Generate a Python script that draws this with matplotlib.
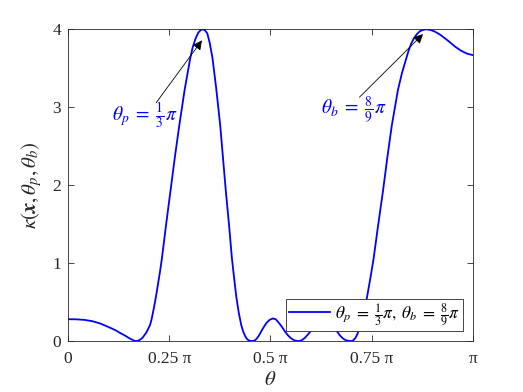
import numpy as np
import matplotlib
matplotlib.use("Agg")
import matplotlib.pyplot as plt

plt.rcParams['mathtext.fontset'] = 'stix'
plt.rcParams['font.family'] = ['Liberation Serif', 'DejaVu Serif']

# theta / pi and kappa values
theta_over_pi = [0.000, 0.020, 0.040, 0.060, 0.080, 0.100, 0.117, 0.130, 0.141, 0.150,
                 0.156, 0.162, 0.168, 0.172, 0.176, 0.180, 0.185, 0.189, 0.194, 0.198,
                 0.203, 0.207, 0.212, 0.217, 0.222, 0.227, 0.232, 0.242,
                 0.253, 0.264, 0.275, 0.288, 0.302, 0.308, 0.315, 0.322, 0.328, 0.333,
                 0.338, 0.344, 0.350,
                 0.357, 0.366, 0.376, 0.383, 0.390, 0.398, 0.405, 0.411, 0.416, 0.422,
                 0.428, 0.433, 0.438, 0.443, 0.447, 0.452, 0.457, 0.462, 0.466, 0.471,
                 0.476, 0.483, 0.490, 0.498, 0.506, 0.513, 0.520, 0.528, 0.535, 0.543,
                 0.550, 0.556, 0.562, 0.567, 0.571, 0.578, 0.585, 0.592, 0.600, 0.610,
                 0.620, 0.628, 0.635, 0.643, 0.650, 0.658, 0.665, 0.672, 0.680, 0.686,
                 0.692, 0.696, 0.700, 0.705, 0.710, 0.716, 0.723, 0.729, 0.735, 0.740,
                 0.745, 0.750, 0.755, 0.766, 0.778, 0.789, 0.800, 0.815, 0.825,
                 0.833, 0.841, 0.848, 0.855, 0.862, 0.869, 0.876, 0.883, 0.890, 0.897,
                 0.905, 0.912, 0.920, 0.930, 0.940, 0.956, 0.970, 0.985, 1.000]
kappa = [0.280, 0.279, 0.272, 0.255, 0.225, 0.180, 0.140, 0.100, 0.070, 0.040,
         0.024, 0.008, 0.000, 0.003, 0.011, 0.024, 0.048, 0.076, 0.113, 0.155,
         0.210, 0.290, 0.420, 0.560, 0.720, 0.880, 1.060, 1.480,
         1.920, 2.360, 2.770, 3.220, 3.630, 3.770, 3.880, 3.960, 3.992, 4.000,
         3.990, 3.950, 3.830,
         3.630, 3.250, 2.770, 2.350, 1.920, 1.480, 1.060, 0.780, 0.560, 0.360,
         0.205, 0.120, 0.060, 0.022, 0.007, 0.001, 0.000, 0.010, 0.030, 0.065,
         0.110, 0.175, 0.230, 0.272, 0.290, 0.280, 0.240, 0.185, 0.130, 0.075,
         0.040, 0.018, 0.005, 0.001, 0.000, 0.012, 0.040, 0.080, 0.130, 0.195,
         0.240, 0.265, 0.270, 0.260, 0.230, 0.180, 0.120, 0.070, 0.030, 0.012,
         0.004, 0.001, 0.000, 0.010, 0.040, 0.100, 0.220, 0.330, 0.460, 0.600,
         0.750, 0.900, 1.060, 1.480, 1.920, 2.360, 2.770, 3.220, 3.440,
         3.580, 3.720, 3.820, 3.890, 3.940, 3.975, 3.992, 4.000, 3.998, 3.990,
         3.975, 3.955, 3.930, 3.890, 3.850, 3.780, 3.730, 3.690, 3.670]

xtick_vals = [0, 0.25, 0.5, 0.75, 1.0]
xtick_labels = ['0', '0.25 π', '0.5 π', '0.75 π', 'π']
ytick_vals = [0, 1, 2, 3, 4]

theta = np.array(theta_over_pi) * np.pi

fig = plt.figure(figsize=(5.23, 3.92), dpi=100)
ax = fig.add_axes([0.130, 0.130, 0.774, 0.795])

ax.plot(theta, kappa, color=(0, 0, 1), lw=1.3,
        label=r'$\theta_p\;=\;\frac{1}{3}\pi,\;\theta_b\;=\;\frac{8}{9}\pi$')

ax.set_xlim(0, np.pi)
ax.set_ylim(0, 4)
ax.set_xticks(np.array(xtick_vals) * np.pi)
ax.set_xticklabels(xtick_labels)
ax.set_yticks(ytick_vals)

axc = (0.15, 0.15, 0.15)
for s in ax.spines.values():
    s.set_color(axc)
    s.set_linewidth(0.6)
ax.tick_params(direction='in', length=4, width=0.6, color=axc, labelcolor=axc,
               labelsize=12.5, top=True, right=True)
ax.tick_params(axis='x', pad=7)
ax.tick_params(axis='y', pad=5)

ax.set_xlabel(r'$\theta$', fontsize=15, color=axc, labelpad=3)
ax.set_ylabel(r'$\kappa(\mathbfit{x},\theta_p,\theta_b)$', fontsize=15, color=axc, labelpad=6)

# annotations
ax.annotate('', xy=(0.331 * np.pi, 3.86), xytext=(0.218 * np.pi, 3.06),
            arrowprops=dict(arrowstyle='-|>', color='black', lw=0.6,
                            mutation_scale=14, shrinkA=0, shrinkB=0))
ax.text(0.190 * np.pi, 2.90, r'$\theta_p\;=\;\frac{1}{3}\pi$', color=(0, 0, 1),
        fontsize=14, ha='center', va='center')
ax.annotate('', xy=(0.877 * np.pi, 3.94), xytext=(0.720 * np.pi, 3.13),
            arrowprops=dict(arrowstyle='-|>', color='black', lw=0.6,
                            mutation_scale=14, shrinkA=0, shrinkB=0))
ax.text(0.705 * np.pi, 2.97, r'$\theta_b\;=\;\frac{8}{9}\pi$', color=(0, 0, 1),
        fontsize=14, ha='center', va='center')

leg = ax.legend(loc='lower right', fontsize=12.5, frameon=True, fancybox=False,
                edgecolor=axc, framealpha=1, borderpad=0.15, handlelength=2.4,
                handletextpad=0.3, borderaxespad=0.55)
leg.get_frame().set_linewidth(0.6)

fig.savefig('out.png', dpi=100)
